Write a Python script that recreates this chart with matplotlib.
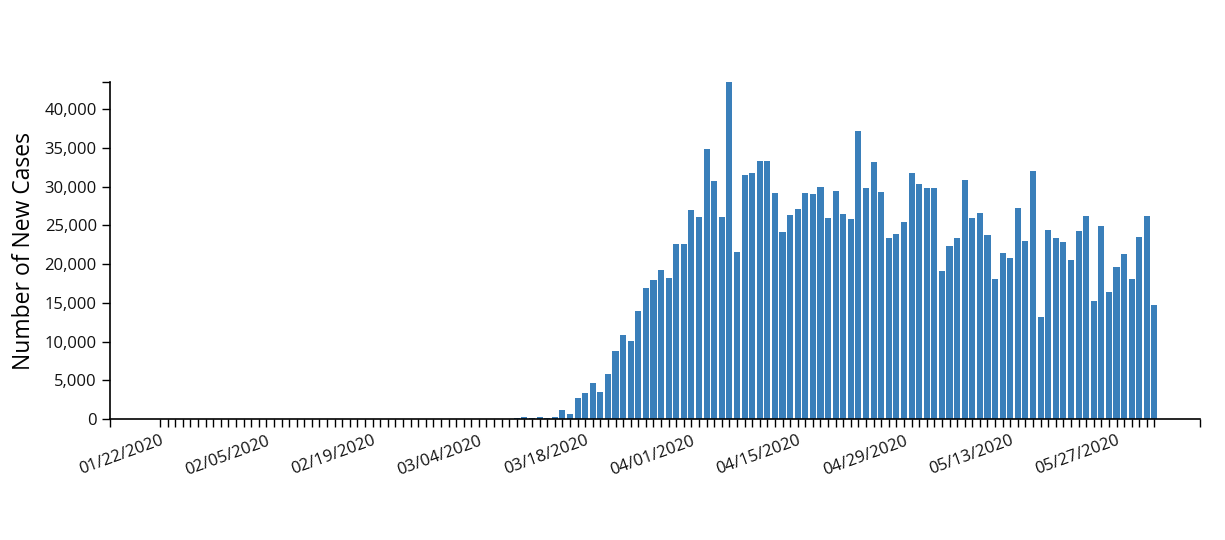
import matplotlib
matplotlib.use('Agg')
import matplotlib.pyplot as plt
import numpy as np
import pandas as pd

plt.rcParams['font.family'] = ['Open Sans', 'DejaVu Sans']

dates = pd.date_range('2020-01-22', '2020-06-01', freq='D')
# 01/22 - 03/08 are all zero
early = [0] * 47
cases = [170, 300, 170, 300, 170, 300, 1200, 690, 2750, 3400,
         4680, 3520, 5850, 8810, 10870, 10100, 13970, 16930, 17960, 19250,
         18220, 22600, 22600, 27000, 26080, 34850, 30720, 26080, 43490, 21570,
         31500, 31750, 33300, 33300, 29180, 24150, 26340, 27130, 29180, 29050,
         29970, 25960, 29450, 26490, 25840, 37170, 29840, 33200, 29330, 23380,
         23900, 25450, 31760, 30360, 29840, 29840, 19130, 22360, 23380, 30870,
         25960, 26600, 23780, 18100, 21460, 20810, 27260, 23000, 32030, 13200,
         24420, 23380, 22870, 20550, 24300, 26230, 15270, 24940, 16430, 19650,
         21330, 18100, 23520, 26230, 14750]
values = early + cases
labels = [d.strftime('%m/%d/%Y') for d in dates]

fig = plt.figure(figsize=(12.25, 5.4), dpi=100)
ax = fig.add_axes([110/1225, 121/540, 1090/1225, 337/540])

x = np.arange(len(dates))
ax.bar(x, values, width=0.8, color='#3a7fba')

ax.set_xlim(-6.6, 137.0)
ax.set_ylim(0, max(values))

ax.set_xticks(x)
ax.set_xticklabels([l if i % 14 == 0 else '' for i, l in enumerate(labels)],
                   rotation=20, ha='right', rotation_mode='anchor', fontsize=12)
ax.set_xticks([-6.6, 137.0], minor=True)
ax.set_yticks(np.arange(0, 40001, 5000))
ax.set_yticklabels(['{:,}'.format(v) for v in range(0, 40001, 5000)], fontsize=12)
ax.set_yticks([max(values)], minor=True)
ax.tick_params(which='both', length=6, width=1, color='black', labelcolor='#111111')
ax.tick_params(axis='x', pad=4)

for s in ['top', 'right']:
    ax.spines[s].set_visible(False)
for s in ['left', 'bottom']:
    ax.spines[s].set_linewidth(1.2)

ax.set_ylabel('Number of New Cases', fontsize=16.5, labelpad=6)

fig.savefig('out.png', dpi=100)
